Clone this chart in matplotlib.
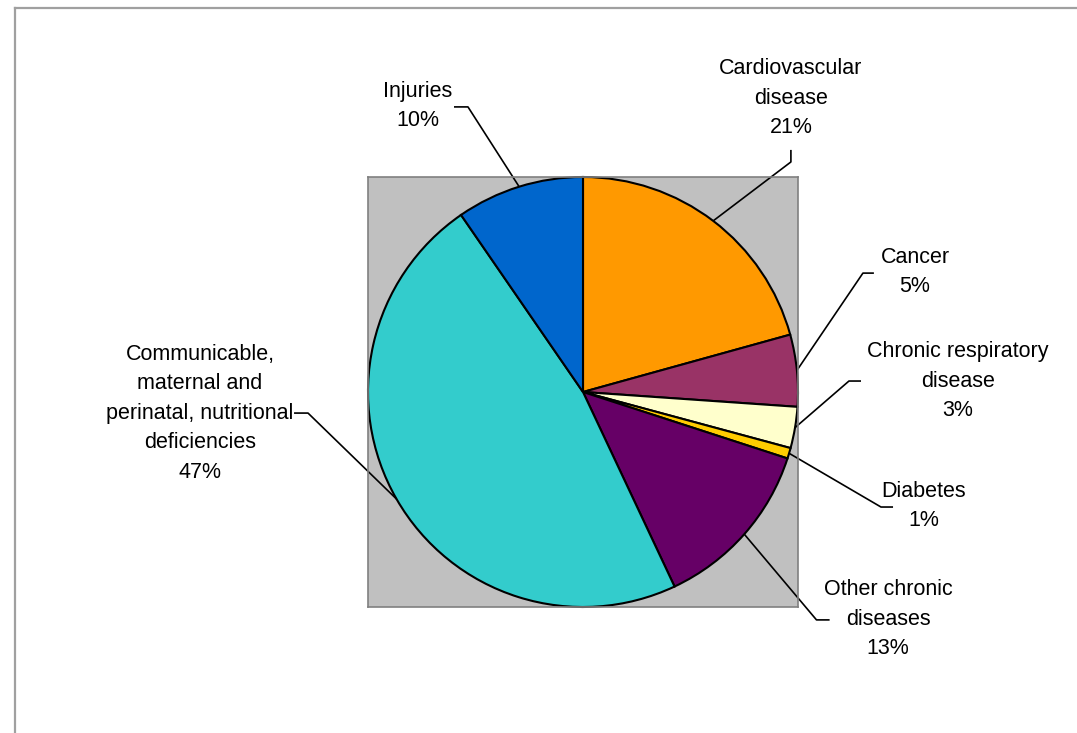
import matplotlib.pyplot as plt
from matplotlib.lines import Line2D
import numpy as np

plt.rcParams['font.family'] = ['Liberation Sans', 'DejaVu Sans']

# data
categories = ['Cardiovascular\ndisease', 'Cancer', 'Chronic respiratory\ndisease',
              'Diabetes', 'Other chronic\ndiseases',
              'Communicable,\nmaternal and\nperinatal, nutritional\ndeficiencies', 'Injuries']
shares = [20.7, 5.4, 3.1, 0.8, 13.0, 47.4, 9.6]
colors = ['#FF9900', '#993366', '#FFFFCC', '#FFCC00', '#660066', '#33CCCC', '#0066CC']

# label layout in pie units (radius = 1): text centre, elbow, stub end
text_pos = [(0.967, 1.367), (1.544, 0.558), (1.744, 0.051), (1.586, -0.530),
            (1.419, -1.056), (-1.781, -0.098), (-0.767, 1.330)]
elbows = [(0.967, 1.070), (1.302, 0.553), (1.237, 0.051), (1.386, -0.535),
          (1.086, -1.060), (-1.279, -0.098), (-0.535, 1.326)]
stubs = [(0.967, 1.126), (1.353, 0.553), (1.293, 0.051), (1.442, -0.535),
         (1.147, -1.060), (-1.344, -0.098), (-0.600, 1.326)]

W, H = 1077, 733
fig = plt.figure(figsize=(W / 100, H / 100), dpi=100)

# outer chart-area border (only top and left visible)
fig.add_artist(Line2D([15 / W, 15 / W], [0, 1 - 8 / H], color='#A0A0A0', lw=1.6))
fig.add_artist(Line2D([15 / W, 1], [1 - 8 / H, 1 - 8 / H], color='#A0A0A0', lw=1.6))

ax = fig.add_axes([368 / W, (H - 607) / H, 430 / W, 430 / H])

wedges, _ = ax.pie(shares, colors=colors, startangle=90, counterclock=False, radius=1,
                   frame=True, wedgeprops=dict(edgecolor='black', linewidth=1.5))
ax.set_facecolor('#C0C0C0')
ax.set_frame_on(True)
for s in ax.spines.values():
    s.set_visible(True)
    s.set_color('#808080')
    s.set_linewidth(1.2)
ax.set_xticks([])
ax.set_yticks([])
ax.set_xlim(-1, 1)
ax.set_ylim(-1, 1)
ax.set_aspect('auto')

total = sum(shares)
for i, w in enumerate(wedges):
    ang = np.deg2rad((w.theta1 + w.theta2) / 2)
    ex, ey = np.cos(ang), np.sin(ang)
    ax.plot([ex, elbows[i][0], stubs[i][0]], [ey, elbows[i][1], stubs[i][1]],
            color='black', lw=1.2, clip_on=False, solid_capstyle='butt')
    pct = round(shares[i] / total * 100)
    ax.text(text_pos[i][0], text_pos[i][1], f'{categories[i]}\n{pct}%',
            ha='center', va='center', fontsize=15.5, linespacing=1.53, color='black')

fig.savefig('out.png', dpi=100)
